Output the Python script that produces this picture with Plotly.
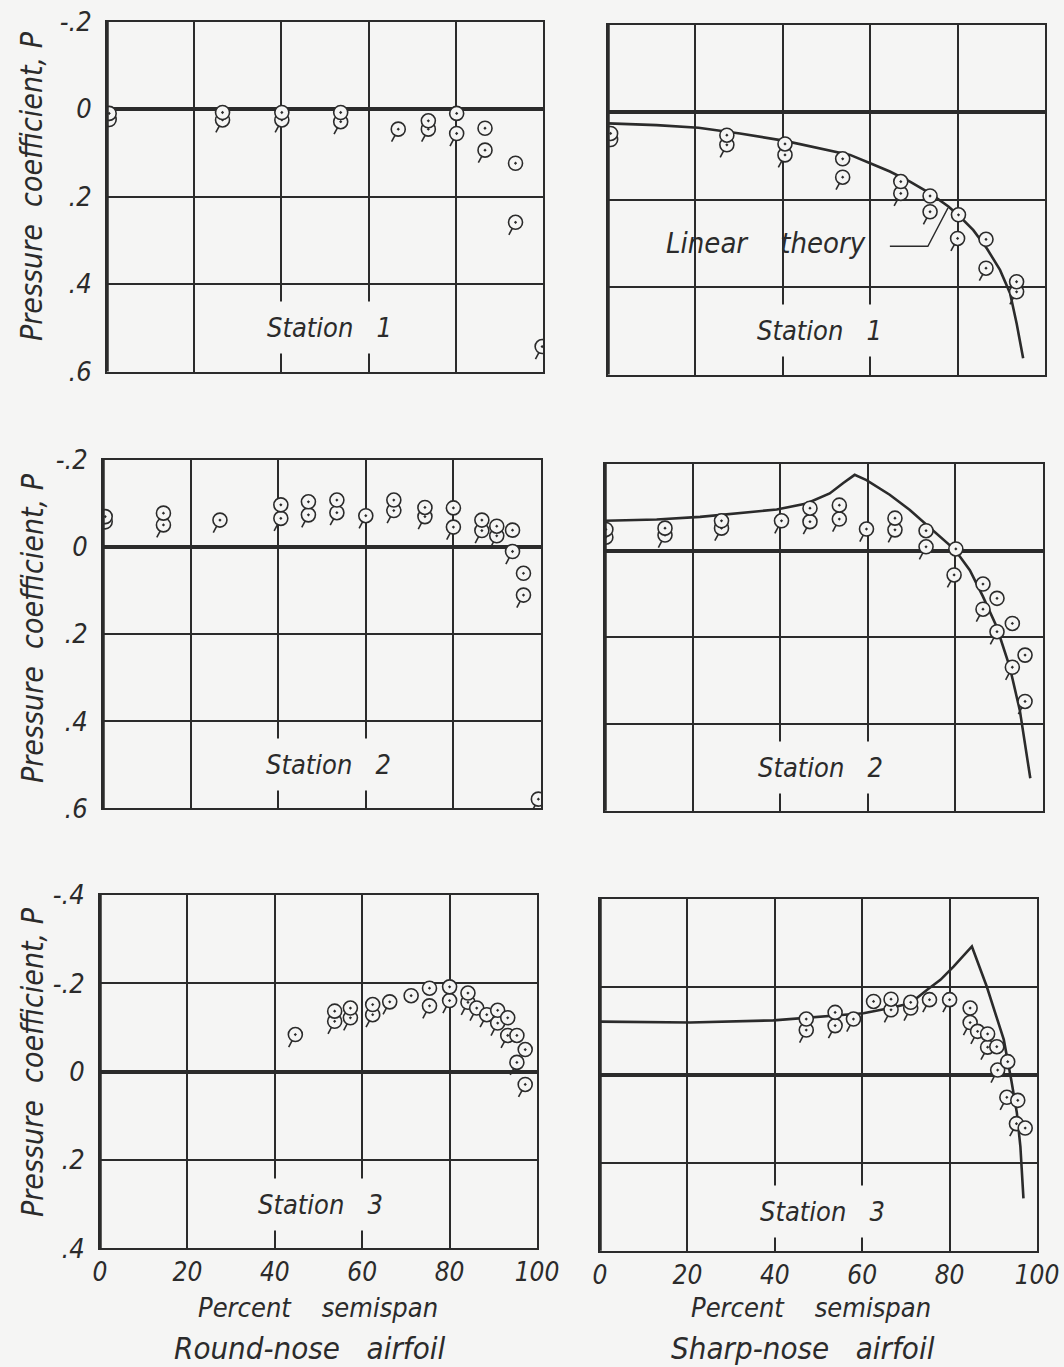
import plotly.graph_objects as go

W, H = 1064, 1367
BG = "#f5f5f4"
INK = "#2b2b2b"
FONT = "Liberation Sans Narrow, DejaVu Sans Condensed, Liberation Sans, sans-serif"

# ---------------- data (percent semispan, pressure coefficient P) ----------------
# Panel 1: round-nose airfoil, station 1
p1_plain_x = [0.5, 26.5, 40.1, 53.6, 73.7, 80.2, 86.7, 93.7]
p1_plain_y = [0.010, 0.008, 0.008, 0.008, 0.027, 0.010, 0.044, 0.124]
p1_tail_x = [0.5, 26.5, 40.1, 53.6, 66.8, 73.7, 80.2, 86.7, 93.7, 99.8]
p1_tail_y = [0.024, 0.025, 0.025, 0.029, 0.046, 0.046, 0.056, 0.094, 0.259, 0.543]

# Panel 2: sharp-nose airfoil, station 1
p2_plain_x = [0.6, 27.2, 40.5, 53.7, 67.0, 73.7, 80.2, 86.5, 93.5]
p2_plain_y = [0.049, 0.053, 0.073, 0.107, 0.159, 0.192, 0.235, 0.291, 0.388]
p2_tail_x = [0.6, 27.2, 40.5, 53.7, 67.0, 73.7, 80.0, 86.5, 93.5]
p2_tail_y = [0.063, 0.075, 0.098, 0.149, 0.186, 0.228, 0.289, 0.357, 0.411]
p2_theory_x = [0, 11.1, 20.7, 30.2, 40.5, 49.3, 55.4, 60.0, 64.5, 69.1, 73.7,
               77.9, 80.5, 83.6, 86.7, 89.7, 92.0, 93.5, 95.0]
p2_theory_y = [0.026, 0.030, 0.036, 0.049, 0.066, 0.085, 0.098, 0.117, 0.136, 0.159,
               0.186, 0.216, 0.239, 0.270, 0.312, 0.361, 0.414, 0.483, 0.563]

# Panel 3: round-nose airfoil, station 2
p3_plain_x = [0.5, 13.8, 40.6, 46.9, 53.4, 66.4, 73.5, 80.0, 86.5, 89.9, 93.5, 96.0]
p3_plain_y = [-0.069, -0.077, -0.096, -0.103, -0.107, -0.107, -0.090, -0.089,
              -0.061, -0.047, -0.038, 0.061]
p3_tail_x = [0.5, 13.8, 26.7, 40.6, 46.9, 53.4, 60.0, 66.4, 73.5, 80.0, 86.5,
             89.9, 93.5, 96.0, 99.4]
p3_tail_y = [-0.057, -0.050, -0.061, -0.065, -0.073, -0.078, -0.071, -0.083,
             -0.069, -0.045, -0.037, -0.025, 0.011, 0.111, 0.579]

# Panel 4: sharp-nose airfoil, station 2
p4_plain_x = [0.2, 13.7, 26.6, 46.8, 53.5, 66.2, 73.3, 80.1, 86.3, 89.5, 93.0, 95.9]
p4_plain_y = [-0.049, -0.052, -0.069, -0.098, -0.105, -0.075, -0.046, -0.004,
              0.077, 0.110, 0.168, 0.241]
p4_tail_x = [0.2, 13.7, 26.6, 40.3, 46.8, 53.5, 59.7, 66.2, 73.3, 79.7, 86.3,
             89.5, 93.0, 95.9]
p4_tail_y = [-0.031, -0.036, -0.052, -0.069, -0.067, -0.073, -0.050, -0.048,
             -0.009, 0.056, 0.135, 0.187, 0.269, 0.348]
p4_theory_x = [0, 11.8, 21.7, 30.8, 39.2, 46.0, 51.3, 54.4, 57.0, 59.7, 65.0,
               69.6, 74.2, 77.2, 79.9, 83.3, 86.3, 89.4, 92.4, 94.7, 97.1]
p4_theory_y = [-0.069, -0.072, -0.078, -0.086, -0.095, -0.109, -0.132, -0.156,
               -0.175, -0.163, -0.129, -0.094, -0.052, -0.025, -0.002, 0.045,
               0.106, 0.175, 0.268, 0.368, 0.525]

# Panel 5: round-nose airfoil, station 3
p5_plain_x = [53.7, 57.3, 62.4, 71.2, 75.4, 80.0, 84.2, 91.0, 93.3, 95.4, 97.3]
p5_plain_y = [-0.137, -0.144, -0.152, -0.172, -0.189, -0.192, -0.178, -0.139,
              -0.122, -0.082, -0.050]
p5_tail_x = [44.7, 53.7, 57.3, 62.4, 66.3, 75.4, 80.0, 84.2, 86.2, 88.5, 91.0,
             93.3, 95.4, 97.3]
p5_tail_y = [-0.084, -0.114, -0.122, -0.129, -0.158, -0.149, -0.161, -0.157,
             -0.144, -0.129, -0.110, -0.082, -0.021, 0.029]

# Panel 6: sharp-nose airfoil, station 3
p6_plain_x = [47.2, 53.8, 62.6, 66.6, 71.1, 84.7, 88.7, 90.8, 93.3, 95.6, 97.3]
p6_plain_y = [-0.127, -0.142, -0.167, -0.172, -0.165, -0.152, -0.093, -0.064,
              -0.030, 0.058, 0.121]
p6_tail_x = [47.2, 53.8, 58.0, 66.6, 71.1, 75.4, 80.0, 84.7, 86.4, 88.7, 91.0,
             93.1, 95.3]
p6_tail_y = [-0.102, -0.112, -0.127, -0.148, -0.152, -0.171, -0.171, -0.119,
             -0.099, -0.063, -0.011, 0.051, 0.111]
p6_theory_x = [0, 20.6, 39.7, 51.1, 60.3, 66.4, 71.0, 74.8, 77.9, 80.9, 85.1,
               88.5, 92.4, 94.1, 95.4, 96.2, 96.9]
p6_theory_y = [-0.121, -0.119, -0.124, -0.133, -0.140, -0.152, -0.163, -0.193,
               -0.216, -0.246, -0.292, -0.201, -0.080, 0.011, 0.087, 0.163, 0.281]

x_ticks = [0, 20, 40, 60, 80, 100]
x_ticktext = ["0", "20", "40", "60", "80", "100"]
y_ticks_12 = [-0.2, 0, 0.2, 0.4, 0.6]
y_ticktext_12 = ["-.2", "0", ".2", ".4", ".6"]
y_ticks_3 = [-0.4, -0.2, 0, 0.2, 0.4]
y_ticktext_3 = ["-.4", "-.2", "0", ".2", ".4"]

station_labels = ["Station\u00a0\u00a0 1", "Station\u00a0\u00a0 1",
                  "Station\u00a0\u00a0 2", "Station\u00a0\u00a0 2",
                  "Station\u00a0\u00a0 3", "Station\u00a0\u00a0 3"]

panels = [
    (p1_plain_x, p1_plain_y, p1_tail_x, p1_tail_y, None, None),
    (p2_plain_x, p2_plain_y, p2_tail_x, p2_tail_y, p2_theory_x, p2_theory_y),
    (p3_plain_x, p3_plain_y, p3_tail_x, p3_tail_y, None, None),
    (p4_plain_x, p4_plain_y, p4_tail_x, p4_tail_y, p4_theory_x, p4_theory_y),
    (p5_plain_x, p5_plain_y, p5_tail_x, p5_tail_y, None, None),
    (p6_plain_x, p6_plain_y, p6_tail_x, p6_tail_y, p6_theory_x, p6_theory_y),
]

# ---------------- layout geometry (pixels) ----------------
dom_px = [
    (107, 543, 21.5, 371.5),
    (608, 1045, 24.5, 374.5),
    (103, 541, 459.5, 808.3),
    (605, 1043, 464, 810.7),
    (100, 537, 895, 1248.3),
    (600, 1037, 899, 1250.7),
]
station_pos = [(51, 0.50), (48.5, 0.50), (51.4, 0.50), (49.1, 0.50), (50.4, 0.30), (50.8, 0.31)]

fig = go.Figure()
layout = dict(
    width=W, height=H, margin=dict(l=0, r=0, t=0, b=0, autoexpand=False),
    paper_bgcolor=BG, plot_bgcolor=BG, showlegend=False,
    font=dict(family=FONT, color=INK, size=24, style="italic"),
    annotations=[], shapes=[],
)

for i, (px, py, tx, ty, cx, cy) in enumerate(panels):
    k = i + 1
    xa = "x" if k == 1 else f"x{k}"
    ya = "y" if k == 1 else f"y{k}"
    x0, x1, y0, y1 = dom_px[i]
    row = i // 2
    col = i % 2
    if row < 2:
        yr, tv, tt = [0.6, -0.2], y_ticks_12, y_ticktext_12
    else:
        yr, tv, tt = [0.4, -0.4], y_ticks_3, y_ticktext_3
    layout["xaxis" if k == 1 else f"xaxis{k}"] = dict(
        domain=[x0 / W, x1 / W], range=[0, 100], anchor=ya, automargin=False,
        tickvals=x_ticks, ticktext=x_ticktext, showticklabels=(row == 2),
        showgrid=True, gridcolor=INK, gridwidth=1.7,
        showline=True, mirror=True, linecolor=INK, linewidth=1.7,
        zeroline=False, ticks="", tickfont=dict(size=26, family=FONT, style="italic"),
        fixedrange=True,
    )
    layout["yaxis" if k == 1 else f"yaxis{k}"] = dict(
        domain=[1 - y1 / H, 1 - y0 / H], range=yr, anchor=xa, automargin=False,
        tickvals=tv, ticktext=tt, showticklabels=(col == 0),
        showgrid=True, gridcolor=INK, gridwidth=1.7,
        showline=True, mirror=True, linecolor=INK, linewidth=1.7,
        zeroline=True, zerolinecolor=INK, zerolinewidth=3.5,
        ticks="", ticklabelstandoff=8,
        tickfont=dict(size=27, family=FONT, style="italic"), fixedrange=True,
    )
    # thick left edge
    layout["shapes"].append(dict(type="line", xref=f"{xa} domain", yref=f"{ya} domain",
                                 x0=0, x1=0, y0=0, y1=1, line=dict(color=INK, width=3.5)))
    # station label
    sx, sy = station_pos[i]
    layout["annotations"].append(dict(
        x=sx, y=sy, xref=xa, yref=ya, text=station_labels[i], showarrow=False,
        xanchor="center", yanchor="middle",
        bgcolor=BG, borderpad=10, font=dict(size=27, family=FONT, style="italic", color=INK)))

    if cx is not None:
        fig.add_trace(go.Scatter(x=cx, y=cy, xaxis=xa, yaxis=ya, mode="lines",
                                 line=dict(color=INK, width=2.6), hoverinfo="skip"))
    # tails (flag symbols)
    fig.add_trace(go.Scatter(x=tx, y=ty, xaxis=xa, yaxis=ya, mode="markers",
                             marker=dict(symbol="line-ns-open", size=6, angle=28, standoff=10,
                                         color=INK, line=dict(width=1.6, color=INK)),
                             hoverinfo="skip"))
    fig.add_trace(go.Scatter(x=tx, y=ty, xaxis=xa, yaxis=ya, mode="markers",
                             marker=dict(symbol="circle-dot", size=14, color=BG,
                                         line=dict(width=1.6, color=INK))))
    fig.add_trace(go.Scatter(x=px, y=py, xaxis=xa, yaxis=ya, mode="markers",
                             marker=dict(symbol="circle-dot", size=14, color=BG,
                                         line=dict(width=1.6, color=INK))))

# "Linear theory" label with leader
layout["annotations"].append(dict(x=36.2, y=0.30, xref="x2", yref="y2",
                                  xanchor="center", yanchor="middle",
                                  text="Linear\u00a0\u00a0\u00a0 theory", showarrow=False,
                                  font=dict(size=29, family=FONT, style="italic", color=INK)))
layout["shapes"].append(dict(type="path", xref="x2", yref="y2",
                             path="M 64.5,0.307 L 73.2,0.307 L 77.8,0.219",
                             line=dict(color=INK, width=1.4)))

# y-axis titles
for yc in [186, 628, 1062]:
    layout["annotations"].append(dict(x=32 / W, y=1 - yc / H, xref="paper", yref="paper",
                                      xanchor="center", yanchor="middle",
                                      text="Pressure\u00a0 coefficient,\u00a0P", textangle=-90,
                                      showarrow=False,
                                      font=dict(size=30, family=FONT, style="italic", color=INK)))
# x-axis titles and airfoil captions
for xc_title, xc_cap, cap in [(318, 309, "Round-nose\u00a0\u00a0 airfoil"),
                              (811, 803, "Sharp-nose\u00a0\u00a0 airfoil")]:
    layout["annotations"].append(dict(x=xc_title / W, y=1 - 1307 / H, xref="paper", yref="paper",
                                      xanchor="center", yanchor="middle",
                                      text="Percent\u00a0\u00a0\u00a0 semispan", showarrow=False,
                                      font=dict(size=27, family=FONT, style="italic", color=INK)))
    layout["annotations"].append(dict(x=xc_cap / W, y=1 - 1348 / H, xref="paper", yref="paper",
                                      xanchor="center", yanchor="middle",
                                      text=cap, showarrow=False,
                                      font=dict(size=31, family=FONT, style="italic", color=INK)))

fig.update_layout(**layout)
fig.write_html("out.html")
